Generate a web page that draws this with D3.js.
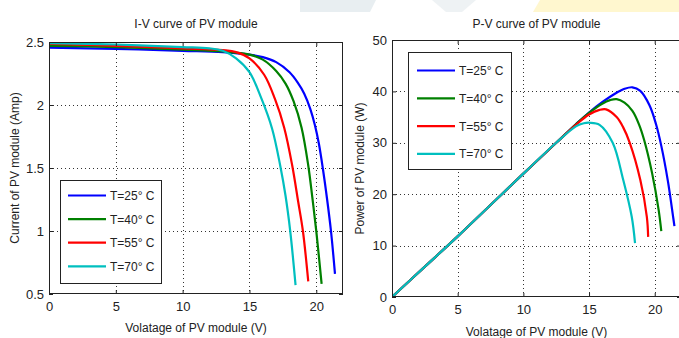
<!DOCTYPE html>
<html>
<head>
<meta charset="utf-8">
<script src="https://cdn.jsdelivr.net/npm/d3@7"></script>
<style>
  body { margin: 0; background: #fff; }
  svg text { font-family: "Liberation Sans", Arial, sans-serif; fill: #222; }
</style>
</head>
<body>
<div id="chart"></div>
<script>
const temps = ["T=25° C", "T=40° C", "T=55° C", "T=70° C"];
const colors = ["#0000ff", "#008000", "#ff0000", "#00bfbf"];

const xTicks = [0, 5, 10, 15, 20];
const ivTicks = [0.5, 1, 1.5, 2, 2.5];
const pvTicks = [0, 10, 20, 30, 40, 50];

// I-V curves, [voltage, current]
const iv25 = [[0, 2.455], [5, 2.445], [10, 2.43], [13, 2.42], [15, 2.40], [16, 2.38], [17, 2.34], [18, 2.26], [18.6, 2.18], [19.1, 2.09], [19.55, 1.97], [19.9, 1.84], [20.2, 1.69], [20.5, 1.49], [20.8, 1.26], [21.1, 1.0], [21.4, 0.66]];
const iv40 = [[0, 2.47], [5, 2.46], [10, 2.44], [13, 2.425], [15, 2.40], [16, 2.36], [17, 2.27], [17.7, 2.17], [18.3, 2.03], [18.9, 1.82], [19.4, 1.52], [19.7, 1.27], [20.0, 1.0], [20.4, 0.58]];
const iv55 = [[0, 2.485], [5, 2.47], [10, 2.45], [13, 2.435], [14, 2.42], [15, 2.37], [16.1, 2.24], [16.9, 2.05], [17.6, 1.82], [18.2, 1.52], [18.65, 1.23], [19.0, 1.0], [19.4, 0.6]];
const iv70 = [[0, 2.49], [5, 2.48], [10, 2.46], [12, 2.45], [13, 2.43], [14, 2.37], [15, 2.26], [15.9, 2.05], [16.7, 1.81], [17.3, 1.52], [17.7, 1.28], [18.05, 1.0], [18.45, 0.57]];

// P-V curves, [voltage, power]
const pv25 = [[0, 0], [2.5, 5.9], [5, 11.8], [7.5, 17.9], [10, 24.0], [12.5, 30.0], [14, 33.6], [15, 35.9], [16, 37.9], [17, 39.6], [17.7, 40.5], [18.3, 40.8], [18.9, 40.1], [19.6, 37.3], [20.1, 33.6], [20.5, 29.4], [21.0, 22.6], [21.4, 15.6], [21.5, 13.8]];
const pv40 = [[0, 0], [2.5, 5.9], [5, 11.8], [7.5, 17.9], [10, 24.0], [12.5, 30.0], [14, 33.6], [15, 35.8], [16, 37.6], [16.6, 38.3], [17.1, 38.5], [17.7, 37.8], [18.3, 36.2], [18.8, 33.6], [19.2, 30.5], [19.8, 24.1], [20.3, 16.9], [20.5, 12.8]];
const pv55 = [[0, 0], [2.5, 5.9], [5, 11.8], [7.5, 17.9], [10, 24.0], [12.5, 30.0], [14, 33.5], [15, 35.5], [15.8, 36.4], [16.3, 36.5], [17.1, 35.0], [17.6, 33.0], [18.1, 30.0], [18.9, 22.8], [19.4, 15.6], [19.5, 11.7]];
const pv70 = [[0, 0], [2.5, 5.9], [5, 11.8], [7.5, 17.9], [10, 24.0], [12.5, 30.0], [14, 33.2], [14.6, 33.8], [15.05, 33.9], [15.8, 33.5], [16.8, 30.0], [17.6, 22.8], [18.25, 15.6], [18.5, 10.5]];

const W = 679, H = 338;

const svg = d3
  .select("#chart")
  .append("svg")
  .attr("width", W)
  .attr("height", H);

// faint watermark at the top edge of the source image
svg.append("path").attr("d", "M300,0H376L370,12H300Z").attr("fill", "#e8eef1");
svg.append("path").attr("d", "M432,0H476L462,12H446Z").attr("fill", "#eef2f4");
svg.append("path").attr("d", "M540,0H679V12H533Z").attr("fill", "#fff7cf");

const panels = [
  {
    id: "iv",
    left: 49, right: 343, top: 42, bottom: 294,
    yDomain: [0.5, 2.5], yTicks: ivTicks,
    series: [iv25, iv40, iv55, iv70],
    title: "I-V curve of PV module",
    xlabel: "Volatage of PV module (V)", xlabelY: 332,
    ylabel: "Current of PV module (Amp)", ylabelX: 19,
    legend: { x: 60, y: 180, w: 101, h: 103, row0: 195.5, step: 23.6, l0: 68, l1: 106, tx: 110 },
  },
  {
    id: "pv",
    left: 392, right: 681, top: 40, bottom: 297,
    yDomain: [0, 50], yTicks: pvTicks,
    series: [pv25, pv40, pv55, pv70],
    title: "P-V curve of PV module",
    xlabel: "Volatage of PV module (V)", xlabelY: 336,
    ylabel: "Power of PV module (W)", ylabelX: 364,
    legend: { x: 408, y: 52, w: 103, h: 117, row0: 70.5, step: 27.8, l0: 417, l1: 455, tx: 459 },
  },
];

panels.forEach(drawPanel);

function drawPanel(p) {
  const x = d3.scaleLinear().domain([0, 22]).range([p.left, p.right]);
  const y = d3.scaleLinear().domain(p.yDomain).range([p.bottom, p.top]);
  const g = svg.append("g").attr("id", p.id);

  // dotted grid
  const grid = g.append("g").attr("stroke", "#333").attr("stroke-dasharray", "1,3");
  grid
    .selectAll("line.gx")
    .data(xTicks.filter((d) => d > 0))
    .enter()
    .append("line")
    .attr("x1", (d) => Math.round(x(d)) + 0.5)
    .attr("x2", (d) => Math.round(x(d)) + 0.5)
    .attr("y1", p.top)
    .attr("y2", p.bottom);
  grid
    .selectAll("line.gy")
    .data(p.yTicks.slice(1, -1))
    .enter()
    .append("line")
    .attr("x1", p.left)
    .attr("x2", p.right)
    .attr("y1", (d) => Math.round(y(d)) + 0.5)
    .attr("y2", (d) => Math.round(y(d)) + 0.5);

  // curves
  const clipId = "clip-" + p.id;
  g.append("clipPath")
    .attr("id", clipId)
    .append("rect")
    .attr("x", p.left)
    .attr("y", p.top)
    .attr("width", p.right - p.left)
    .attr("height", p.bottom - p.top);

  const line = d3
    .line()
    .x((d) => x(d[0]))
    .y((d) => y(d[1]))
    .curve(d3.curveCatmullRom.alpha(0.5));

  g.append("g")
    .attr("clip-path", "url(#" + clipId + ")")
    .selectAll("path")
    .data(p.series)
    .enter()
    .append("path")
    .attr("d", line)
    .attr("fill", "none")
    .attr("stroke", (d, i) => colors[i])
    .attr("stroke-width", 2.2)
    .attr("stroke-linejoin", "round");

  // axes, MATLAB style inward ticks
  const fmt = (d) => String(d);
  const styleAxis = (sel) => {
    sel.select(".domain").remove();
    sel.selectAll(".tick line").attr("stroke", "#222");
    sel.selectAll(".tick text").attr("font-size", 13).attr("fill", "#222")
      .attr("font-family", "Liberation Sans, Arial, sans-serif");
  };

  g.append("g")
    .attr("transform", "translate(0," + p.bottom + ")")
    .call(d3.axisBottom(x).tickValues(xTicks).tickFormat(fmt).tickSize(-4).tickSizeOuter(0).tickPadding(8))
    .call(styleAxis);
  g.append("g")
    .attr("transform", "translate(0," + p.top + ")")
    .call(d3.axisTop(x).tickValues(xTicks).tickFormat("").tickSize(-4).tickSizeOuter(0))
    .call(styleAxis);
  g.append("g")
    .attr("transform", "translate(" + p.left + ",0)")
    .call(d3.axisLeft(y).tickValues(p.yTicks).tickFormat(fmt).tickSize(-4).tickSizeOuter(0).tickPadding(5))
    .call(styleAxis);
  g.append("g")
    .attr("transform", "translate(" + p.right + ",0)")
    .call(d3.axisRight(y).tickValues(p.yTicks).tickFormat("").tickSize(-4).tickSizeOuter(0))
    .call(styleAxis);

  // frame
  g.append("rect")
    .attr("x", p.left + 0.5)
    .attr("y", p.top + 0.5)
    .attr("width", p.right - p.left - 1)
    .attr("height", p.bottom - p.top - 1)
    .attr("fill", "none")
    .attr("stroke", "#222");

  // texts
  const cx = (p.left + p.right) / 2;
  g.append("text")
    .attr("x", cx)
    .attr("y", 28)
    .attr("text-anchor", "middle")
    .attr("font-size", 12)
    .text(p.title);
  g.append("text")
    .attr("x", cx)
    .attr("y", p.xlabelY)
    .attr("text-anchor", "middle")
    .attr("font-size", 12)
    .text(p.xlabel);
  g.append("text")
    .attr("transform", "translate(" + p.ylabelX + "," + (p.top + p.bottom) / 2 + ") rotate(-90)")
    .attr("text-anchor", "middle")
    .attr("font-size", 12)
    .text(p.ylabel);

  // legend
  const L = p.legend;
  const leg = g.append("g");
  leg.append("rect")
    .attr("x", L.x + 0.5)
    .attr("y", L.y + 0.5)
    .attr("width", L.w)
    .attr("height", L.h)
    .attr("fill", "#fff")
    .attr("stroke", "#222");
  const rows = leg
    .selectAll("g.row")
    .data(temps)
    .enter()
    .append("g")
    .attr("transform", (d, i) => "translate(0," + (L.row0 + i * L.step) + ")");
  rows.append("line")
    .attr("x1", L.l0)
    .attr("x2", L.l1)
    .attr("stroke", (d, i) => colors[i])
    .attr("stroke-width", 2.2);
  rows.append("text")
    .attr("x", L.tx)
    .attr("y", 4.5)
    .attr("font-size", 12)
    .text((d) => d);
}
</script>
</body>
</html>
